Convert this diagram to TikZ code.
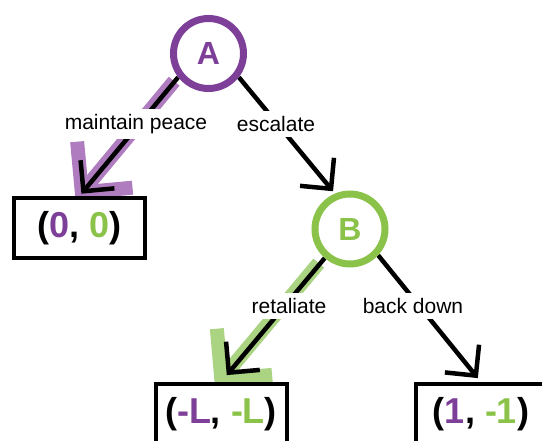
\documentclass[tikz,border=0pt]{standalone}
\usepackage{fontspec}
\setmainfont{Liberation Sans}
\usetikzlibrary{arrows.meta,backgrounds}
\definecolor{pa}{RGB}{126,63,152}
\definecolor{gb}{RGB}{139,195,74}
\definecolor{palight}{RGB}{176,124,192}
\definecolor{gblight}{RGB}{170,211,130}
\begin{document}
\begin{tikzpicture}[x=1pt,y=-1pt,
  player/.style={circle, draw=#1, fill=white, line width=7pt, minimum size=70pt, inner sep=0pt, text=#1, font=\fontsize{32}{36}\selectfont\bfseries},
  payoff/.style={draw=black, fill=white, line width=4pt, minimum width=131pt, minimum height=60pt, inner sep=0pt, font=\fontsize{36}{40}\selectfont\bfseries},
  move/.style={draw=black, line width=4.5pt, -{Straight Barb[length=22pt,width=44pt,line join=miter,line cap=butt]}},
  hilite/.style={draw=#1, line width=14pt, -{Straight Barb[length=36pt,width=72pt,line join=miter,line cap=butt]}},
  lbl/.style={fill=white, inner sep=5pt, font=\fontsize{21}{24}\selectfont}
]
\useasboundingbox (0,0) rectangle (542,441);
\clip (0,0) rectangle (542,441);

\node[player=pa] (A) at (208.5,53.5) {A};
\node[player=gb] (B) at (350,229) {B};
\node[payoff] (p1) at (79.5,228) {(\textcolor{pa}{0}, \textcolor{gb}{0})};
\node[payoff] (p2) at (221,414) {(\textcolor{pa}{-L}, \textcolor{gb}{-L})};
\node[payoff] (p3) at (481,414) {(\textcolor{pa}{1}, \textcolor{gb}{-1})};

\begin{scope}[on background layer]
  \draw[hilite=palight, transform canvas={shift={(-4,4)}}] (A.-142) -- (p1.north);
  \draw[hilite=gblight, transform canvas={shift={(-6,5)}}] (B.-131) -- (p2.north);
  \draw[move, shorten >=3pt] (A.-142) -- (p1.north);
  \draw[move, shorten >=3pt] (A.-38) -- (B.113);
  \draw[move, shorten >=9pt] (B.-131) -- (p2.north);
  \draw[move, shorten >=5pt] (B.-43) -- (p3.north);
\end{scope}

\node[lbl] (lmp) at (136,124) {maintain peace};
\node[lbl] (lesc) at (276,124) {escalate};
\node[lbl] (lret) at (289,306) {retaliate};
\node[lbl] (lbd) at (413,306) {back down};
\end{tikzpicture}
\end{document}
